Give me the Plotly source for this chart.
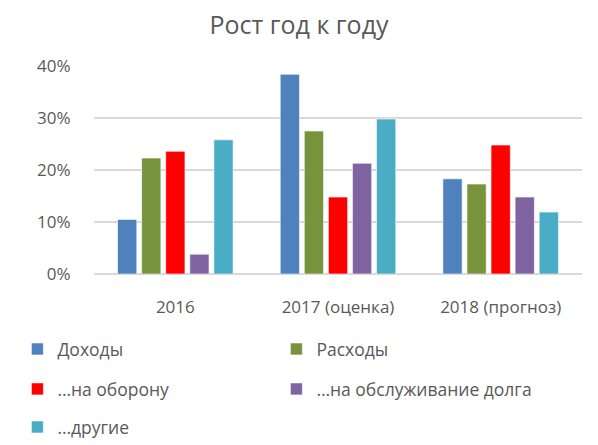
import plotly.graph_objects as go

categories = ["2016", "2017 (оценка)", "2018 (прогноз)"]
series_names = ["Доходы", "Расходы", "…на оборону", "…на обслуживание долга", "…другие"]
revenue = [0.105, 0.384, 0.183]
spending = [0.223, 0.275, 0.173]
defense = [0.236, 0.148, 0.248]
debt = [0.038, 0.213, 0.148]
other = [0.258, 0.298, 0.119]
colors = ["#4F81BD", "#77933C", "#FF0000", "#8064A2", "#4BACC6"]
legend_rows = ["legend", "legend", "legend2", "legend2", "legend3"]
y_ticks = [0, 0.1, 0.2, 0.3, 0.4]

font_family = "'Open Sans', sans-serif"
text_color = "#595959"

fig = go.Figure()
for name, vals, col, lg in zip(series_names, [revenue, spending, defense, debt, other], colors, legend_rows):
    fig.add_trace(go.Bar(
        x=categories, y=vals, name=name, legend=lg,
        marker=dict(color=col, line=dict(color="rgba(255,255,255,0.6)", width=1)),
    ))

legend_common = dict(orientation="h", x=-0.157, xanchor="left", yanchor="middle",
                     entrywidth=214, entrywidthmode="pixels",
                     font=dict(family=font_family, size=17.5, color=text_color),
                     itemclick=False, bgcolor="rgba(0,0,0,0)")

fig.update_layout(
    width=598, height=445,
    margin=dict(l=94, r=16, t=66, b=171, autoexpand=False),
    paper_bgcolor="white", plot_bgcolor="white",
    barmode="group", bargap=0.26, bargroupgap=0.2,
    title=dict(text="Рост год к году", x=0.5, xanchor="center", y=0.944, yanchor="middle",
               font=dict(family=font_family, size=25, color=text_color)),
    font=dict(family=font_family, color=text_color, size=17),
    showlegend=True,
    legend=dict(legend_common, y=-0.361),
    legend2=dict(legend_common, y=-0.553),
    legend3=dict(legend_common, y=-0.736),
)
fig.update_xaxes(showgrid=False, showline=False, ticks="", ticklabelstandoff=21,
                 tickfont=dict(size=17, color=text_color))
fig.update_yaxes(range=[0, 0.4], tickvals=y_ticks, tickformat=".0%",
                 showgrid=True, gridcolor="#D9D9D9", gridwidth=1.5,
                 zeroline=True, zerolinecolor="#D9D9D9", zerolinewidth=1.5,
                 showline=False, ticks="outside", ticklen=19, tickcolor="rgba(0,0,0,0)",
                 tickfont=dict(size=17, color=text_color))

fig.write_html("out.html", config={"displayModeBar": False},
               post_script="document.body.style.margin='0';")
